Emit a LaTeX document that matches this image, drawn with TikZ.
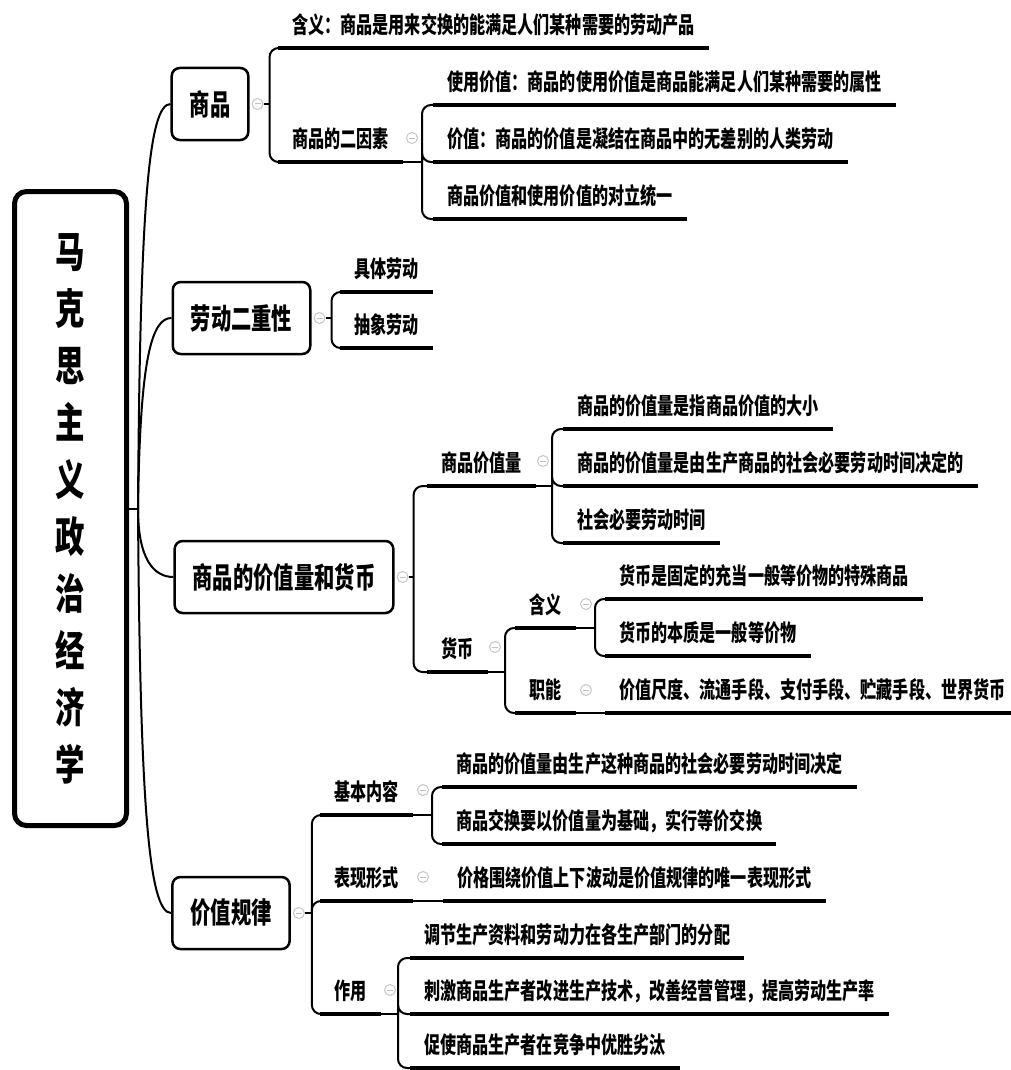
\documentclass[tikz,border=0pt]{standalone}
\usepackage{fontspec}
\setmainfont{Noto Sans CJK SC}[FakeStretch=0.7]
\usetikzlibrary{positioning}

\tikzset{
  rootbox/.style={draw, line width=5pt, rounded corners=12pt, minimum width=112pt,
    minimum height=634pt, align=center, font=\fontsize{42}{57}\selectfont\bfseries},
  topic/.style={draw, line width=2.5pt, rounded corners=8pt, minimum height=72pt,
    inner xsep=18pt, font=\fontsize{29}{32}\selectfont\bfseries},
  item/.style={anchor=south west, inner xsep=14pt, inner ysep=0pt, text depth=14pt,
    font=\fontsize{23}{26}\selectfont\bfseries},
  knob/.style={circle, draw=gray!45, line width=1pt, minimum size=11pt, inner sep=0pt,
    path picture={\draw[gray!50, line width=1pt]
      ([xshift=-3pt]path picture bounding box.center) --
      ([xshift=3pt]path picture bounding box.center);}},
  link/.style={line width=2pt, rounded corners=9pt},
  under/.style={line width=3.5pt}
}

\begin{document}
\begin{tikzpicture}[x=1pt,y=-1pt]
    \useasboundingbox (0,0) rectangle (1011,1070);

    % Root: the title, one character per line
    \node[rootbox] (root) at (70.5,508.5) {马\\克\\思\\主\\义\\政\\治\\经\\济\\学};
    \coordinate (hub) at (138,508.5);

    % The four main topics
    \node[topic] (shangpin) at (210,104) {商品};
    \node[topic] (laodong)  at (241.5,318) {劳动二重性};
    \node[topic] (liangbi)  at (284,577) {商品的价值量和货币};
    \node[topic] (guilv)    at (231,913) {价值规律};

    \node[knob, right=2pt of shangpin] (kShangpin) {};
    \node[knob, right=2pt of laodong]  (kLaodong)  {};
    \node[knob, right=2pt of liangbi]  (kLiangbi)  {};
    \node[knob, right=2pt of guilv]    (kGuilv)    {};

    \coordinate[right=6pt of kShangpin] (bShangpin);
    \coordinate[right=6pt of kLaodong]  (bLaodong);
    \coordinate[right=5pt of kLiangbi]  (bLiangbi);
    \coordinate[right=7pt of kGuilv]    (bGuilv);

    % Commodity
    \node[item] (hanyi)   at (278,48)  {含义：商品是用来交换的能满足人们某种需要的劳动产品};
    \node[item] (yinsu)   at (278,162) {商品的二因素};
    \node[knob] (kYinsu)  at (412,138) {};
    \coordinate (bYinsu)  at (422,162);
    \node[item] (shiyong) at (433,105) {使用价值：商品的使用价值是商品能满足人们某种需要的属性};
    \node[item] (jiazhi)  at (433,162) {价值：商品的价值是凝结在商品中的无差别的人类劳动};
    \node[item] (tongyi)  at (433,219) {商品价值和使用价值的对立统一};

    % Two-fold labour
    \node[item] (juti)      at (340,292) {具体劳动};
    \node[item] (chouxiang) at (340,348) {抽象劳动};

    % Magnitude of value and money
    \node[item] (liang)  at (427,486) {商品价值量};
    \node[knob] (kLiang) at (543,461) {};
    \coordinate (bLiang) at (552,486);
    \node[item] (liangA) at (563,429) {商品的价值量是指商品价值的大小};
    \node[item] (liangB) at (563,486) {商品的价值量是由生产商品的社会必要劳动时间决定的};
    \node[item] (liangC) at (563,543) {社会必要劳动时间};

    \node[item] (huobi)  at (427,672) {货币};
    \node[knob] (kHuobi) at (495,647) {};
    \coordinate (bHuobi) at (505,672);
    \node[item] (hbHanyi)  at (515,628) {含义};
    \node[knob] (kHbHanyi) at (586,604) {};
    \coordinate (bHbHanyi) at (595,628);
    \node[item] (hbA) at (605,599) {货币是固定的充当一般等价物的特殊商品};
    \node[item] (hbB) at (605,656) {货币的本质是一般等价物};
    \node[item] (zhineng)  at (515,713) {职能};
    \node[knob] (kZhineng) at (586,690) {};
    \node[item] (zhinengA) at (605,713) {价值尺度、流通手段、支付手段、贮藏手段、世界货币};

    % Law of value
    \node[item] (jiben)  at (320,815) {基本内容};
    \node[knob] (kJiben) at (423,790) {};
    \coordinate (bJiben) at (432,815);
    \node[item] (jibenA) at (442,787) {商品的价值量由生产这种商品的社会必要劳动时间决定};
    \node[item] (jibenB) at (442,844) {商品交换要以价值量为基础，实行等价交换};
    \node[item] (biaoxian)  at (320,901) {表现形式};
    \node[knob] (kBiaoxian) at (423,877) {};
    \node[item] (biaoxianA) at (443,901) {价格围绕价值上下波动是价值规律的唯一表现形式};
    \node[item] (zuoyong)  at (320,1014) {作用};
    \node[knob] (kZuoyong) at (390,990) {};
    \coordinate (bZuoyong) at (398,1014);
    \node[item] (zuoyongA) at (410,958)  {调节生产资料和劳动力在各生产部门的分配};
    \node[item] (zuoyongB) at (410,1014) {刺激商品生产者改进生产技术，改善经营管理，提高劳动生产率};
    \node[item] (zuoyongC) at (410,1068) {促使商品生产者在竞争中优胜劣汰};

    % Underlines of all items
    \foreach \n in {hanyi,yinsu,shiyong,jiazhi,tongyi,juti,chouxiang,liang,liangA,liangB,
        liangC,huobi,hbHanyi,hbA,hbB,zhineng,zhinengA,jiben,jibenA,jibenB,biaoxian,
        biaoxianA,zuoyong,zuoyongA,zuoyongB,zuoyongC}
      \draw[under] (\n.south west) -- (\n.south east);

    % Root to topics
    \draw[line width=2pt] (root.east) -- (hub);
    \draw[line width=2pt] (hub) .. controls +(2,-300) and +(-22,0) .. (shangpin.west);
    \draw[line width=2pt] (hub) .. controls +(2,-150) and +(-20,0) .. (laodong.west);
    \draw[line width=2pt] (hub) .. controls +(0,50) and +(-20,0) .. (liangbi.west);
    \draw[line width=2pt] (hub) .. controls +(2,300) and +(-22,0) .. (guilv.west);

    % Topics to their items
    \draw[line width=2pt] (kShangpin) -- (bShangpin);
    \draw[link] (bShangpin) |- (hanyi.south west);
    \draw[link] (bShangpin) |- (yinsu.south west);
    \draw[line width=2pt] (kLaodong) -- (bLaodong);
    \draw[link] (bLaodong) |- (juti.south west);
    \draw[link] (bLaodong) |- (chouxiang.south west);
    \draw[line width=2pt] (kLiangbi) -- (bLiangbi);
    \draw[link] (bLiangbi) |- (liang.south west);
    \draw[link] (bLiangbi) |- (huobi.south west);
    \draw[line width=2pt] (kGuilv) -- (bGuilv);
    \draw[link] (bGuilv) |- (jiben.south west);
    \draw[link] (bGuilv) |- (biaoxian.south west);
    \draw[link] (bGuilv) |- (zuoyong.south west);

    % Items to their sub-items
    \draw[line width=2pt] (yinsu.south east) -- (bYinsu);
    \draw[link] (bYinsu) |- (shiyong.south west);
    \draw[link] (bYinsu) |- (jiazhi.south west);
    \draw[link] (bYinsu) |- (tongyi.south west);
    \draw[line width=2pt] (liang.south east) -- (bLiang);
    \draw[link] (bLiang) |- (liangA.south west);
    \draw[link] (bLiang) |- (liangB.south west);
    \draw[link] (bLiang) |- (liangC.south west);
    \draw[line width=2pt] (huobi.south east) -- (bHuobi);
    \draw[link] (bHuobi) |- (hbHanyi.south west);
    \draw[link] (bHuobi) |- (zhineng.south west);
    \draw[line width=2pt] (hbHanyi.south east) -- (bHbHanyi);
    \draw[link] (bHbHanyi) |- (hbA.south west);
    \draw[link] (bHbHanyi) |- (hbB.south west);
    \draw[line width=2pt] (zhineng.south east) -- (zhinengA.south west);
    \draw[line width=2pt] (jiben.south east) -- (bJiben);
    \draw[link] (bJiben) |- (jibenA.south west);
    \draw[link] (bJiben) |- (jibenB.south west);
    \draw[line width=2pt] (biaoxian.south east) -- (biaoxianA.south west);
    \draw[line width=2pt] (zuoyong.south east) -- (bZuoyong);
    \draw[link] (bZuoyong) |- (zuoyongA.south west);
    \draw[link] (bZuoyong) |- (zuoyongB.south west);
    \draw[link] (bZuoyong) |- (zuoyongC.south west);
\end{tikzpicture}
\end{document}
